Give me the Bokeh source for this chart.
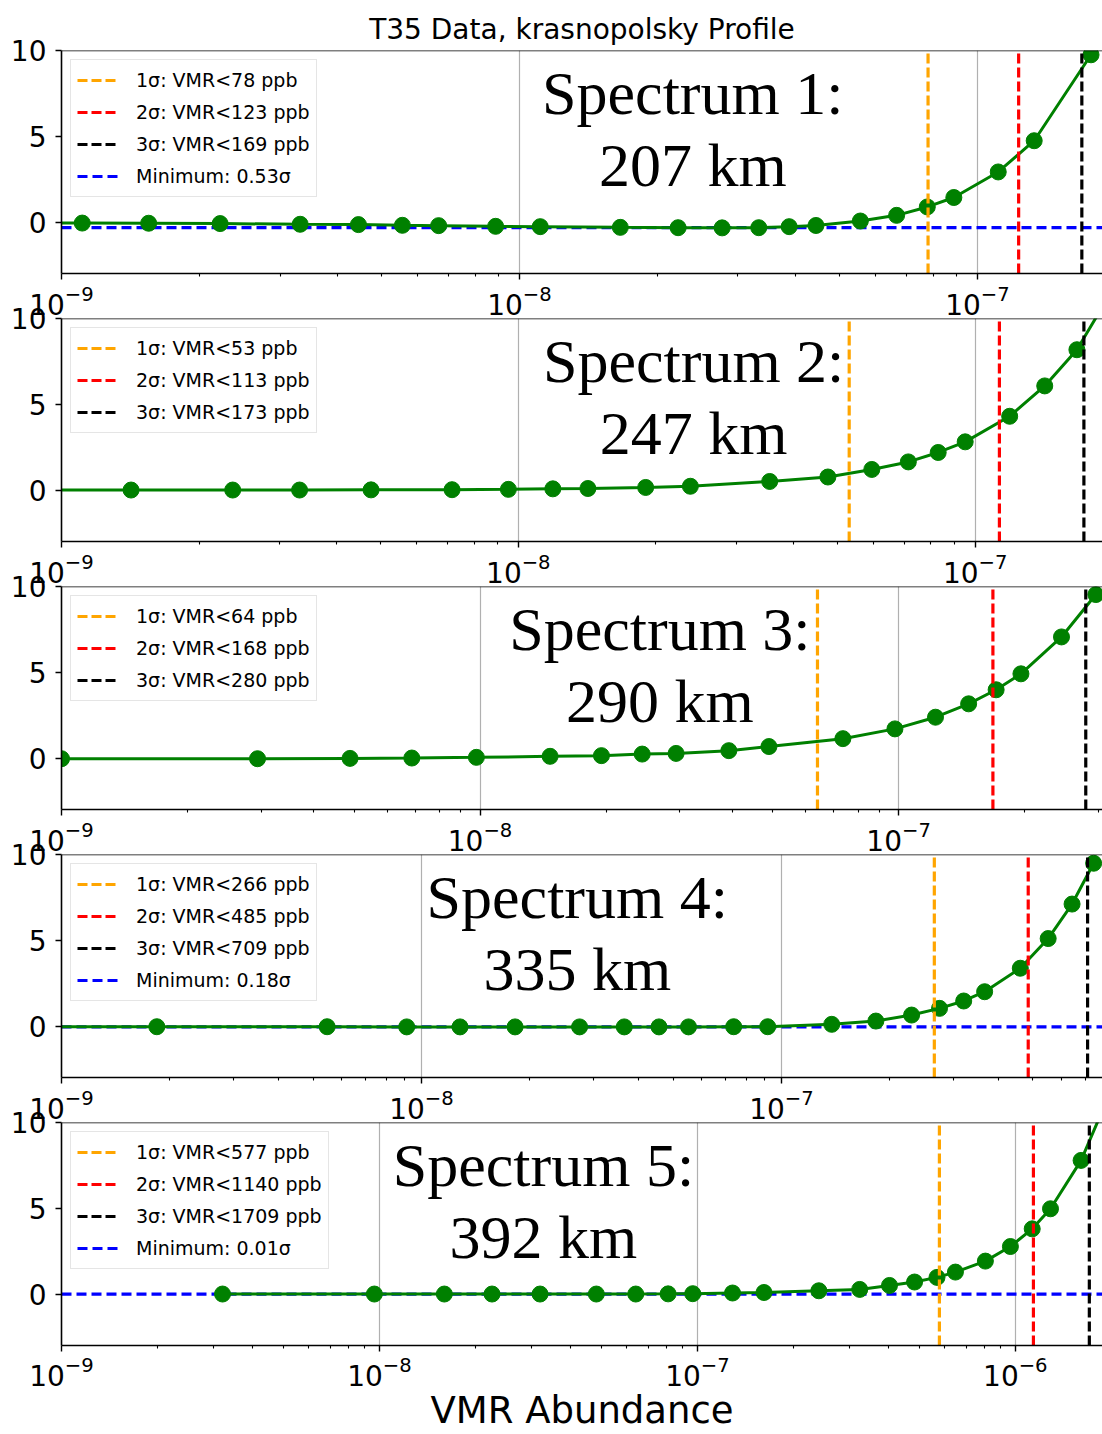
from bokeh.plotting import figure
from bokeh.layouts import column
from bokeh.models import Range1d, FixedTicker, Span, Label, Legend, LegendItem
from bokeh.embed import file_html
from bokeh.resources import INLINE

TITLE = "T35 Data, krasnopolsky Profile"
X_LABEL = "VMR Abundance"
Y_MIN, Y_MAX = -3, 10
Y_TICKS = [0, 5, 10]
X_MIN = 1e-9
X_MAX = [1.875e-7, 1.9e-7, 3.07e-7, 7.8e-7, 1.88e-6]
X_TICKS = [1e-9, 1e-8, 1e-7, 1e-6]

# Panel data (VMR abundance, delta chi-square in sigma units)
P1_X = [7.8e-10, 1.11e-9, 1.55e-9, 2.22e-9, 3.32e-9, 4.45e-9, 5.55e-9, 6.66e-9, 8.87e-9, 1.11e-8,
        1.66e-8, 2.22e-8, 2.77e-8, 3.33e-8, 3.88e-8, 4.44e-8, 5.55e-8, 6.66e-8, 7.77e-8, 8.88e-8,
        1.11e-7, 1.33e-7, 1.77e-7]
P1_Y = [-0.05, -0.06, -0.07, -0.09, -0.13, -0.15, -0.19, -0.21, -0.25, -0.27,
        -0.31, -0.33, -0.34, -0.33, -0.27, -0.20, 0.06, 0.39, 0.88, 1.43,
        2.92, 4.74, 9.75]

P2_X = [9.5e-10, 1.42e-9, 2.37e-9, 3.32e-9, 4.76e-9, 7.16e-9, 9.51e-9, 1.19e-8, 1.42e-8, 1.90e-8,
        2.38e-8, 3.55e-8, 4.76e-8, 5.94e-8, 7.14e-8, 8.30e-8, 9.51e-8, 1.19e-7, 1.42e-7, 1.67e-7,
        2.14e-7]
P2_Y = [0.0, 0.0, 0.0, 0.0, 0.01, 0.02, 0.04, 0.07, 0.09, 0.15,
        0.22, 0.50, 0.76, 1.20, 1.64, 2.19, 2.81, 4.30, 6.07, 8.18,
        13.0]

P3_X = [1.0e-9, 2.94e-9, 4.89e-9, 6.87e-9, 9.8e-9, 1.47e-8, 1.95e-8, 2.44e-8, 2.94e-8, 3.93e-8,
        4.9e-8, 7.36e-8, 9.8e-8, 1.225e-7, 1.47e-7, 1.71e-7, 1.96e-7, 2.45e-7, 2.96e-7]
P3_Y = [-0.04, -0.04, -0.02, 0.0, 0.04, 0.10, 0.14, 0.23, 0.27, 0.43,
        0.67, 1.13, 1.70, 2.38, 3.16, 3.98, 4.91, 7.06, 9.53]

P4_X = [9.0e-10, 1.84e-9, 5.47e-9, 9.1e-9, 1.28e-8, 1.82e-8, 2.75e-8, 3.66e-8, 4.57e-8, 5.52e-8,
        7.37e-8, 9.16e-8, 1.38e-7, 1.83e-7, 2.30e-7, 2.75e-7, 3.21e-7, 3.67e-7, 4.61e-7, 5.51e-7,
        6.42e-7, 7.37e-7]
P4_Y = [-0.04, -0.04, -0.04, -0.05, -0.05, -0.05, -0.05, -0.05, -0.05, -0.05,
        -0.04, -0.04, 0.10, 0.29, 0.64, 1.03, 1.46, 2.00, 3.37, 5.10,
        7.11, 9.49]

P5_X = [3.21e-9, 9.64e-9, 1.60e-8, 2.26e-8, 3.2e-8, 4.81e-8, 6.4e-8, 8.09e-8, 9.67e-8, 1.29e-7,
        1.62e-7, 2.41e-7, 3.24e-7, 4.02e-7, 4.82e-7, 5.67e-7, 6.48e-7, 8.05e-7, 9.65e-7, 1.13e-6,
        1.29e-6, 1.61e-6, 1.93e-6]
P5_Y = [0.0, 0.0, 0.0, 0.0, 0.0, 0.0, 0.0, 0.01, 0.02, 0.06,
        0.09, 0.19, 0.27, 0.50, 0.70, 0.97, 1.28, 1.92, 2.77, 3.80,
        4.97, 7.79, 11.2]

PANEL_X = [P1_X, P2_X, P3_X, P4_X, P5_X]
PANEL_Y = [P1_Y, P2_Y, P3_Y, P4_Y, P5_Y]

SIGMA1_PPB = [78, 53, 64, 266, 577]
SIGMA2_PPB = [123, 113, 168, 485, 1140]
SIGMA3_PPB = [169, 173, 280, 709, 1709]
MIN_SIGMA = [0.53, None, None, 0.18, 0.01]
MIN_LEVEL = [-0.33, None, None, -0.05, 0.0]

SPECTRUM_NAMES = ["Spectrum 1:", "Spectrum 2:", "Spectrum 3:", "Spectrum 4:", "Spectrum 5:"]
ALTITUDE_KM = [207, 247, 290, 335, 392]
NAME_X = [2.39e-8, 2.42e-8, 2.69e-8, 2.71e-8, 3.28e-8]
NAME_Y = [7.5, 3.35]

FONT = "DejaVu Sans"
TOP_PAD = 19       # room above frames 2-5 for the "10" tick label
OVERLAP = 24       # how far frames 2-5 slide up under the previous x-axis labels


def minor_ticks(lo, hi):
    out = []
    for k in range(-10, -4):
        for m in range(2, 10):
            v = m * 10.0 ** k
            if lo <= v <= hi:
                out.append(v)
    return out


figs = []
for i in range(5):
    first = i == 0
    last = i == 4
    kw = dict(
        x_axis_type="log",
        x_range=Range1d(X_MIN, X_MAX[i]),
        y_range=Range1d(Y_MIN, Y_MAX),
        frame_width=1041, frame_height=223,
        output_backend="svg", toolbar_location=None,
        min_border_left=61, min_border_right=0,
        min_border_top=50 if first else TOP_PAD,
        min_border_bottom=88 if last else 50,
        border_fill_color=None,
        outline_line_color=None,
    )
    if first:
        kw["title"] = TITLE
    p = figure(**kw)
    if first:
        p.title.text_font = FONT
        p.title.text_font_size = "28px"
        p.title.text_font_style = "normal"
        p.title.text_color = "black"
        p.title.align = "center"
        p.title.standoff = 10

    xs, ys = PANEL_X[i], PANEL_Y[i]

    items = []
    rmin = None
    if MIN_LEVEL[i] is not None:
        rmin = p.segment(x0=[X_MIN], y0=[MIN_LEVEL[i]], x1=[X_MAX[i]], y1=[MIN_LEVEL[i]],
                         line_color="blue", line_dash="10 5", line_width=3.2)

    p.line(xs, ys, line_color="green", line_width=3)
    p.scatter(xs, ys, size=16, fill_color="green", line_color="green")

    r1 = p.segment(x0=[SIGMA1_PPB[i] * 1e-9], y0=[Y_MIN], x1=[SIGMA1_PPB[i] * 1e-9], y1=[Y_MAX],
                   line_color="orange", line_dash="10 4", line_width=3.2)
    r2 = p.segment(x0=[SIGMA2_PPB[i] * 1e-9], y0=[Y_MIN], x1=[SIGMA2_PPB[i] * 1e-9], y1=[Y_MAX],
                   line_color="red", line_dash="10 4", line_width=3.2)
    r3 = p.segment(x0=[SIGMA3_PPB[i] * 1e-9], y0=[Y_MIN], x1=[SIGMA3_PPB[i] * 1e-9], y1=[Y_MAX],
                   line_color="black", line_dash="10 4", line_width=3.2)

    items.append(LegendItem(label="1σ: VMR<%d ppb" % SIGMA1_PPB[i], renderers=[r1]))
    items.append(LegendItem(label="2σ: VMR<%d ppb" % SIGMA2_PPB[i], renderers=[r2]))
    items.append(LegendItem(label="3σ: VMR<%d ppb" % SIGMA3_PPB[i], renderers=[r3]))
    if rmin is not None:
        items.append(LegendItem(label="Minimum: %.2fσ" % MIN_SIGMA[i], renderers=[rmin]))

    legend = Legend(items=items, location="top_left", margin=9, padding=6, spacing=4,
                    glyph_width=42, glyph_height=28, label_height=28, label_standoff=17,
                    label_text_font=FONT, label_text_font_size="19px",
                    label_text_color="black",
                    background_fill_color="white", background_fill_alpha=0.8,
                    border_line_color="#cccccc", border_line_width=1.5)
    p.add_layout(legend)

    p.add_layout(Label(x=NAME_X[i], y=NAME_Y[0], text=SPECTRUM_NAMES[i],
                       text_font="Liberation Serif", text_font_size="62px",
                       text_align="center", text_baseline="alphabetic", text_color="black"))
    p.add_layout(Label(x=NAME_X[i], y=NAME_Y[1], text="%d km" % ALTITUDE_KM[i],
                       text_font="Liberation Serif", text_font_size="62px",
                       text_align="center", text_baseline="alphabetic", text_color="black"))

    p.add_layout(Span(location=Y_MAX, dimension="width", line_color="black", line_width=1.6))

    xt = FixedTicker(ticks=[t for t in X_TICKS if X_MIN <= t <= X_MAX[i]],
                     minor_ticks=minor_ticks(X_MIN, X_MAX[i]))
    p.xaxis.ticker = xt
    p.yaxis.ticker = FixedTicker(ticks=Y_TICKS, minor_ticks=[])
    for ax in p.axis:
        ax.axis_line_width = 1.6
        ax.axis_line_color = "black"
        ax.major_tick_out = 6
        ax.major_tick_in = 0
        ax.major_tick_line_width = 1.4
        ax.minor_tick_out = 3
        ax.minor_tick_in = 0
        ax.minor_tick_line_width = 1.1
        ax.major_label_text_font = FONT
        ax.major_label_text_font_size = "28px"
        ax.major_label_text_color = "black"
    p.yaxis.minor_tick_out = 0
    p.xaxis.major_label_standoff = 5
    p.yaxis.major_label_standoff = 9

    p.xgrid.grid_line_color = "#b0b0b0"
    p.xgrid.grid_line_width = 1.2
    p.ygrid.visible = False

    if last:
        p.xaxis.major_label_standoff = 4
        p.xaxis.axis_label = X_LABEL
        p.xaxis.axis_label_text_font = FONT
        p.xaxis.axis_label_text_font_size = "37px"
        p.xaxis.axis_label_text_font_style = "normal"
        p.xaxis.axis_label_text_color = "black"
        p.xaxis.axis_label_standoff = 0
    if not first:
        p.margin = (-OVERLAP, 0, 0, 0)
    figs.append(p)

layout = column(*figs, spacing=0)
open("out.html", "w").write(file_html(layout, INLINE, title=TITLE))
